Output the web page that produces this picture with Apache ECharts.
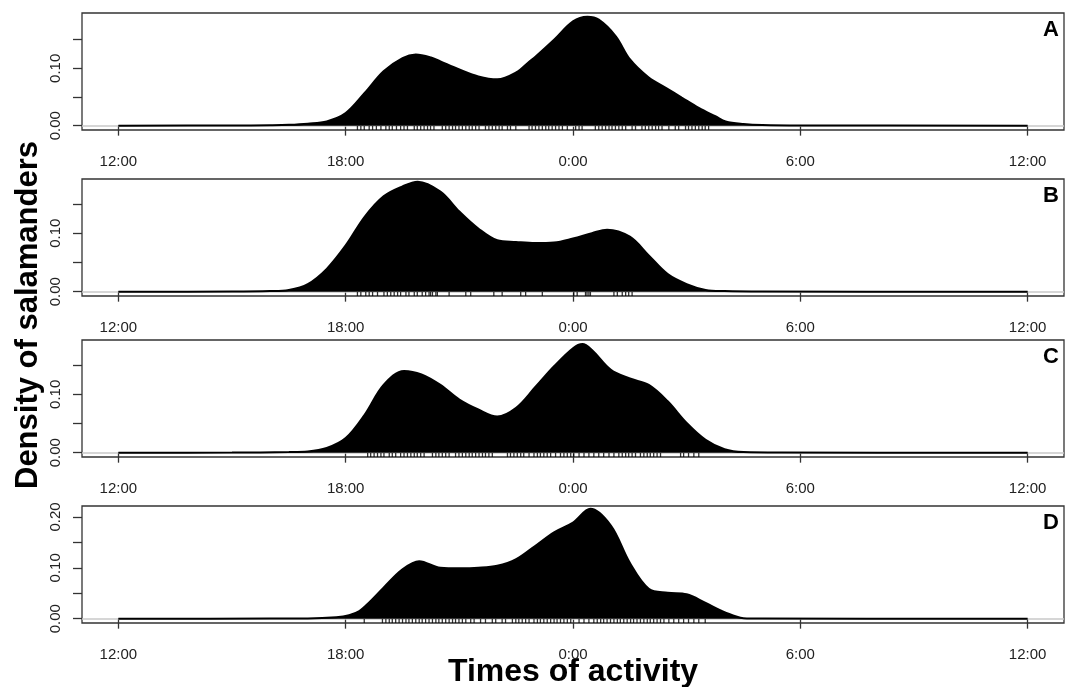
<!DOCTYPE html>
<html>
<head>
<meta charset="utf-8">
<script src="https://cdn.jsdelivr.net/npm/echarts@6/dist/echarts.min.js"></script>
<style>
html,body{margin:0;padding:0;background:#fff;}
#chart{width:1073px;height:687px;}
</style>
</head>
<body>
<div id="chart"></div>
<script>
// x positions are hours after 00:00 of day 1 (12 = 12:00 noon, 24 = 0:00, 36 = 12:00 next day)
const tickHours = [12, 18, 24, 30, 36];
const tickLabels = ['12:00', '18:00', '0:00', '6:00', '12:00'];
const panelLetters = ['A', 'B', 'C', 'D'];

// Panel A density
const timesA = [12, 15, 16, 16.5, 17, 17.5, 18, 18.5, 19, 19.5, 19.85, 20.25, 20.5, 21, 21.5, 22, 22.5, 22.85, 23, 23.5, 24, 24.38, 24.68, 25.13, 25.5, 26, 26.45, 26.87, 27.32, 27.77, 28.03, 28.5, 29, 30, 36];
const densA  = [0, 0.0002, 0.0008, 0.0015, 0.0035, 0.0075, 0.022, 0.057, 0.095, 0.118, 0.124, 0.119, 0.112, 0.098, 0.086, 0.081, 0.093, 0.112, 0.120, 0.150, 0.182, 0.190, 0.185, 0.156, 0.116, 0.084, 0.066, 0.049, 0.031, 0.016, 0.0075, 0.003, 0.001, 0.0002, 0];
// Panel B density
const timesB = [12, 15, 16, 16.5, 17, 17.5, 18, 18.5, 19, 19.5, 19.9, 20.5, 21, 21.5, 22, 22.5, 23, 23.5, 24, 24.5, 24.9, 25.5, 26, 26.5, 27, 27.5, 28, 29, 36];
const densB  = [0, 0.0002, 0.001, 0.003, 0.013, 0.039, 0.079, 0.128, 0.163, 0.180, 0.188, 0.171, 0.137, 0.108, 0.088, 0.085, 0.083, 0.084, 0.091, 0.100, 0.106, 0.094, 0.062, 0.030, 0.013, 0.003, 0.001, 0.0002, 0];
// Panel C density
const timesC = [12, 15, 16.5, 17, 17.5, 18, 18.5, 19, 19.54, 20, 20.5, 21, 21.5, 22, 22.5, 23, 23.5, 24, 24.25, 24.5, 25, 25.5, 26, 26.5, 27, 27.5, 28, 28.5, 29.5, 36];
const densC  = [0, 0.0002, 0.001, 0.002, 0.008, 0.025, 0.065, 0.116, 0.140, 0.134, 0.116, 0.091, 0.074, 0.062, 0.077, 0.112, 0.148, 0.179, 0.186, 0.176, 0.142, 0.127, 0.116, 0.088, 0.051, 0.022, 0.006, 0.001, 0.0002, 0];
// Panel D density
const timesD = [12, 16, 17, 17.75, 18.09, 18.36, 18.62, 19, 19.5, 19.94, 20.5, 21, 21.5, 22, 22.5, 23, 23.5, 24, 24.46, 25, 25.5, 26, 26.5, 27, 27.5, 28, 28.5, 29, 36];
const densD  = [0, 0.0002, 0.0005, 0.003, 0.007, 0.015, 0.032, 0.061, 0.097, 0.113, 0.100, 0.099, 0.100, 0.104, 0.117, 0.143, 0.170, 0.189, 0.216, 0.183, 0.110, 0.059, 0.051, 0.048, 0.031, 0.013, 0.001, 0.0003, 0];

// Rug: observed detection times (hours)
const rugA = [18.31, 18.40, 18.49, 18.62, 18.71, 18.81, 18.93, 19.06, 19.15, 19.23, 19.34, 19.45, 19.54, 19.63, 19.81, 19.89, 19.98, 20.07, 20.16, 20.24, 20.33, 20.55, 20.64, 20.73, 20.82, 20.90, 20.99, 21.08, 21.17, 21.26, 21.34, 21.43, 21.52, 21.69, 21.78, 21.87, 21.96, 22.05, 22.13, 22.27, 22.35, 22.49, 22.84, 22.92, 23.01, 23.10, 23.19, 23.28, 23.36, 23.45, 23.54, 23.63, 23.72, 23.85, 24.07, 24.16, 24.24, 24.59, 24.68, 24.77, 24.86, 24.95, 25.03, 25.12, 25.21, 25.30, 25.39, 25.56, 25.65, 25.82, 25.91, 26.00, 26.09, 26.18, 26.26, 26.35, 26.53, 26.70, 26.79, 26.97, 27.05, 27.14, 27.23, 27.32, 27.41, 27.49, 27.58];
const rugB = [18.31, 18.40, 18.53, 18.62, 18.71, 18.84, 19.01, 19.10, 19.19, 19.28, 19.37, 19.45, 19.59, 19.67, 19.81, 19.89, 20.02, 20.11, 20.20, 20.24, 20.29, 20.38, 20.42, 20.73, 21.17, 21.30, 21.91, 22.13, 22.62, 22.75, 23.19, 24.02, 24.11, 24.33, 24.37, 24.42, 24.46, 25.08, 25.17, 25.30, 25.39, 25.47, 25.56];
const rugC = [18.58, 18.66, 18.75, 18.84, 18.93, 19.01, 19.15, 19.23, 19.32, 19.45, 19.54, 19.63, 19.72, 19.81, 19.89, 19.98, 20.07, 20.29, 20.38, 20.46, 20.55, 20.64, 20.73, 20.90, 20.99, 21.08, 21.17, 21.26, 21.34, 21.43, 21.52, 21.61, 21.69, 21.78, 21.87, 22.27, 22.35, 22.44, 22.53, 22.62, 22.70, 22.84, 22.97, 23.06, 23.14, 23.23, 23.32, 23.41, 23.54, 23.67, 23.76, 23.85, 23.94, 24.02, 24.16, 24.29, 24.42, 24.55, 24.68, 24.81, 24.95, 25.08, 25.21, 25.30, 25.39, 25.47, 25.56, 25.65, 25.78, 25.87, 25.96, 26.04, 26.13, 26.22, 26.31, 26.84, 26.92, 27.05, 27.19, 27.32];
const rugD = [18.49, 18.97, 19.06, 19.15, 19.23, 19.32, 19.41, 19.50, 19.59, 19.67, 19.76, 19.85, 19.94, 20.02, 20.11, 20.20, 20.29, 20.38, 20.46, 20.55, 20.64, 20.73, 20.82, 20.90, 20.99, 21.08, 21.17, 21.30, 21.39, 21.56, 21.69, 21.87, 21.96, 22.13, 22.22, 22.40, 22.49, 22.57, 22.66, 22.75, 22.84, 22.97, 23.06, 23.14, 23.23, 23.32, 23.41, 23.50, 23.58, 23.67, 23.76, 23.85, 23.94, 24.16, 24.29, 24.42, 24.55, 24.64, 24.73, 24.81, 24.90, 24.99, 25.08, 25.17, 25.25, 25.34, 25.43, 25.52, 25.60, 25.69, 25.78, 25.87, 25.96, 26.04, 26.13, 26.22, 26.31, 26.40, 26.53, 26.66, 26.79, 26.92, 27.05, 27.19, 27.32, 27.49];

const yTickValues = [[0, 0.05, 0.10, 0.15], [0, 0.05, 0.10, 0.15], [0, 0.05, 0.10, 0.15], [0, 0.05, 0.10, 0.15, 0.20]];
const yLabelValues = [[0, 0.10], [0, 0.10], [0, 0.10], [0, 0.10, 0.20]];
const yRanges = [[-0.0076, 0.1966], [-0.0074, 0.1926], [-0.0074, 0.1930], [-0.0085, 0.2216]];

const times = [timesA, timesB, timesC, timesD];
const dens = [densA, densB, densC, densD];
const rugs = [rugA, rugB, rugC, rugD];

// layout
const gridTops = [13, 179, 340, 506];
const gridHeight = 117;
const FONT = '"Liberation Sans", Arial, sans-serif';

const grids = [], xAxes = [], yAxes = [], series = [], graphics = [];
for (let i = 0; i < 4; i++) {
  grids.push({left: 82, right: 9, top: gridTops[i], height: gridHeight, show: true, borderColor: '#333', borderWidth: 1.3, backgroundColor: 'transparent'});
  xAxes.push({
    type: 'value', gridIndex: i, min: 11.04, max: 36.96,
    axisLine: {show: false},
    axisTick: {show: true, customValues: tickHours, length: 10, lineStyle: {color: '#333', width: 1.3}},
    axisLabel: {show: true, customValues: tickHours, margin: 24, fontSize: 15, color: '#222', fontFamily: FONT,
      formatter: v => tickLabels[tickHours.indexOf(Math.round(v))]},
    splitLine: {show: false}
  });
  yAxes.push({
    type: 'value', gridIndex: i, min: yRanges[i][0], max: yRanges[i][1],
    axisLine: {show: false},
    axisTick: {show: true, customValues: yTickValues[i], length: 9, lineStyle: {color: '#333', width: 1.3}},
    axisLabel: {show: true, customValues: yLabelValues[i], rotate: 90, margin: 19, fontSize: 15, color: '#222', fontFamily: FONT,
      formatter: v => v.toFixed(2)},
    splitLine: {show: false}
  });
  series.push({
    type: 'line', xAxisIndex: i, yAxisIndex: i, data: [], silent: true, z: 1, zlevel: 0,
    markLine: {silent: true, symbol: 'none', label: {show: false}, animation: false, z: 1,
      lineStyle: {color: '#c8c8c8', width: 1.5, type: 'solid'}, data: [{yAxis: 0}]}
  });
  series.push({
    type: 'line', xAxisIndex: i, yAxisIndex: i, z: 5,
    data: times[i].map((t, k) => [t, dens[i][k]]),
    showSymbol: false, smooth: 0.35, animation: false,
    lineStyle: {color: '#000', width: 2},
    areaStyle: {color: '#000', opacity: 1, origin: 0}
  });
  series.push({
    type: 'scatter', xAxisIndex: i, yAxisIndex: i, z: 6, animation: false,
    data: rugs[i].map(t => [t, 0]),
    symbol: 'rect', symbolSize: [1.3, 4], symbolOffset: [0, 2.3],
    itemStyle: {color: '#000'}
  });
  graphics.push({type: 'text', right: 14, top: gridTops[i] + 6,
    style: {text: panelLetters[i], font: 'bold 22px ' + FONT, fill: '#000'}});
}
graphics.push({type: 'text', x: 573, y: 672,
  style: {text: 'Times of activity', font: 'bold 32px ' + FONT, fill: '#000', textAlign: 'center', textVerticalAlign: 'middle'}});
graphics.push({type: 'text', x: 28, y: 315, rotation: Math.PI / 2,
  style: {text: 'Density of salamanders', font: 'bold 31px ' + FONT, fill: '#000', textAlign: 'center', textVerticalAlign: 'middle'}});

const chart = echarts.init(document.getElementById('chart'), null, {renderer: 'canvas'});
chart.setOption({
  animation: false,
  backgroundColor: '#fff',
  grid: grids, xAxis: xAxes, yAxis: yAxes, series: series, graphic: graphics
});
</script>
</body>
</html>
